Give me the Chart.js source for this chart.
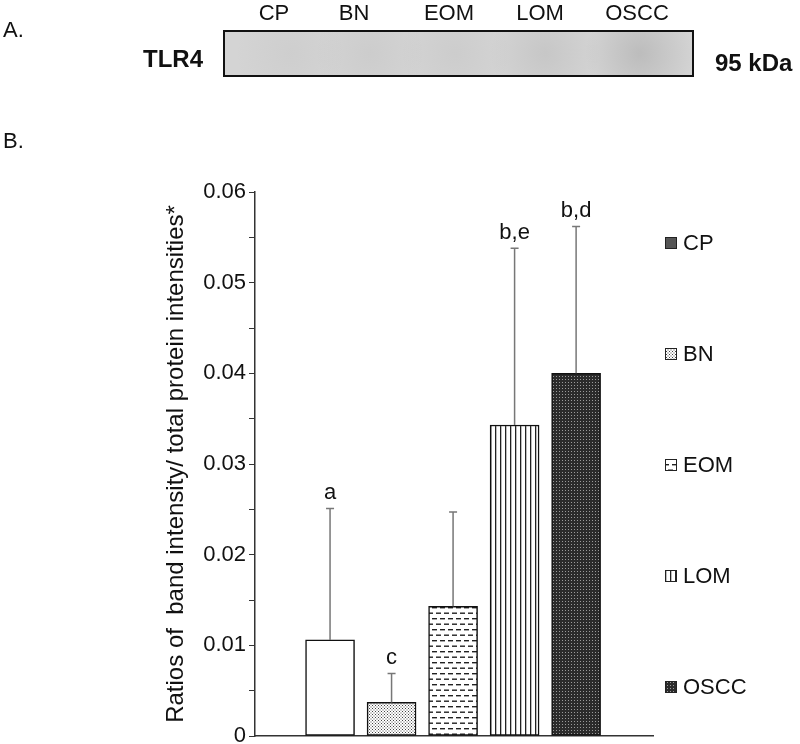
<!DOCTYPE html>
<html>
<head>
<meta charset="utf-8">
<script src="https://cdn.jsdelivr.net/npm/chart.js@4.4.1/dist/chart.umd.min.js"></script>
<style>
  body { margin: 0; background: #fff; }
  #wrap { position: relative; width: 800px; height: 744px; }
</style>
</head>
<body>
<div id="wrap"><canvas id="myChart" width="800" height="744"></canvas></div>
<script>
// data
const groups = ['CP', 'BN', 'EOM', 'LOM', 'OSCC'];
const means = [0.0106, 0.0037, 0.0143, 0.0343, 0.0400];
const sds = [0.0145, 0.0032, 0.0104, 0.0195, 0.0162];
const sigLetters = ['a', 'c', '', 'b,e', 'b,d'];
const yMax = 0.06;
const yStep = 0.005;

const FONT = '"Liberation Sans", Arial, sans-serif';

function makePattern(w, h, draw) {
  const c = document.createElement('canvas');
  c.width = w; c.height = h;
  const g = c.getContext('2d');
  draw(g);
  return c.getContext('2d').createPattern(c, 'repeat');
}

const fills = [
  '#ffffff',
  makePattern(3, 3, g => {
    g.fillStyle = '#fff'; g.fillRect(0, 0, 3, 3);
    g.fillStyle = '#444'; g.fillRect(0, 0, 1, 1); g.fillRect(1.5, 1.5, 1, 1);
  }),
  makePattern(8, 11, g => {
    g.fillStyle = '#fff'; g.fillRect(0, 0, 8, 11);
    g.fillStyle = '#222';
    g.fillRect(0, 2, 5, 1.4);
    g.fillRect(4, 7.5, 5, 1.4);
    g.fillRect(0, 7.5, 1, 1.4);
  }),
  makePattern(5, 4, g => {
    g.fillStyle = '#fff'; g.fillRect(0, 0, 5, 4);
    g.fillStyle = '#222'; g.fillRect(0, 0, 1.3, 4);
  }),
  makePattern(3, 3, g => {
    g.fillStyle = '#2b2b2b'; g.fillRect(0, 0, 3, 3);
    g.fillStyle = '#9a9a9a'; g.fillRect(1, 1, 1, 1);
  })
];
const legendFills = ['#555555', fills[1], fills[2], fills[3], fills[4]];

// panel A: blot strip and labels
const blotPanel = {
  id: 'blotPanel',
  beforeDraw(chart) {
    const ctx = chart.ctx;
    ctx.save();
    ctx.fillStyle = '#111';
    ctx.textBaseline = 'alphabetic';
    ctx.font = '22px ' + FONT;
    ctx.textAlign = 'left';
    ctx.fillText('A.', 3, 37);
    ctx.fillText('B.', 3, 148);

    ctx.textAlign = 'center';
    const laneX = [274, 354, 449, 540, 637];
    groups.forEach((g, i) => ctx.fillText(g, laneX[i], 20));

    // strip
    const bx = 224, by = 31, bw = 469, bh = 45;
    ctx.fillStyle = '#d4d4d4';
    ctx.fillRect(bx, by, bw, bh);
    const spots = [[290, 0.04], [370, 0.05], [455, 0.05], [545, 0.09], [640, 0.16]];
    spots.forEach(([sx, a]) => {
      const rg = ctx.createRadialGradient(sx, by + bh / 2, 2, sx, by + bh / 2, 55);
      rg.addColorStop(0, 'rgba(70,70,70,' + a + ')');
      rg.addColorStop(1, 'rgba(70,70,70,0)');
      ctx.fillStyle = rg;
      ctx.fillRect(bx, by, bw, bh);
    });
    ctx.strokeStyle = '#111';
    ctx.lineWidth = 2;
    ctx.strokeRect(bx, by, bw, bh);

    ctx.fillStyle = '#111';
    ctx.font = 'bold 24px ' + FONT;
    ctx.textAlign = 'left';
    ctx.fillText('TLR4', 143, 67);
    ctx.fillText('95 kDa', 715, 71);
    ctx.restore();
  }
};

// one-sided error bars and letters
const errorBars = {
  id: 'errorBars',
  afterDatasetsDraw(chart) {
    const ctx = chart.ctx;
    const y = chart.scales.y;
    const meta = chart.getDatasetMeta(0);
    ctx.save();
    meta.data.forEach((bar, i) => {
      const top = y.getPixelForValue(means[i] + sds[i]);
      ctx.strokeStyle = '#777';
      ctx.lineWidth = 1.5;
      ctx.beginPath();
      ctx.moveTo(bar.x, bar.y);
      ctx.lineTo(bar.x, top);
      ctx.moveTo(bar.x - 4, top);
      ctx.lineTo(bar.x + 4, top);
      ctx.stroke();
      if (sigLetters[i]) {
        ctx.fillStyle = '#111';
        ctx.font = '22px ' + FONT;
        ctx.textAlign = 'center';
        ctx.textBaseline = 'alphabetic';
        ctx.fillText(sigLetters[i], bar.x, top - 9);
      }
    });
    ctx.restore();
  }
};

// legend spread down the right side
const sideLegend = {
  id: 'sideLegend',
  afterDraw(chart) {
    const ctx = chart.ctx;
    const a = chart.chartArea;
    ctx.save();
    groups.forEach((g, i) => {
      const ly = a.top + 51 + i * 111;
      const lx = a.right + 12;
      ctx.fillStyle = legendFills[i];
      ctx.fillRect(lx, ly - 6, 12, 12);
      ctx.strokeStyle = '#222';
      ctx.lineWidth = 1;
      ctx.strokeRect(lx + 0.5, ly - 5.5, 11, 11);
      ctx.fillStyle = '#111';
      ctx.font = '22px ' + FONT;
      ctx.textAlign = 'left';
      ctx.textBaseline = 'middle';
      ctx.fillText(g, lx + 18, ly + 1);
    });
    ctx.restore();
  }
};

new Chart(document.getElementById('myChart'), {
  type: 'bar',
  data: {
    datasets: [{
      data: groups.map((g, i) => ({ x: i + 1, y: means[i] })),
      backgroundColor: fills,
      borderColor: '#111',
      borderWidth: 1.5,
      borderSkipped: false,
      barThickness: 49
    }]
  },
  options: {
    responsive: false,
    animation: false,
    layout: { padding: { left: 160, right: 147, top: 192, bottom: 8 } },
    plugins: { legend: { display: false }, tooltip: { enabled: false } },
    scales: {
      x: {
        type: 'linear',
        offset: false,
        min: -0.22,
        max: 6.25,
        ticks: { display: false },
        grid: { display: false },
        border: { display: true, color: '#333', width: 1.5 },
        afterFit: s => { s.height = 0; s.paddingLeft = 0; s.paddingRight = 0; }
      },
      y: {
        min: 0,
        max: yMax,
        ticks: {
          stepSize: yStep,
          color: '#111',
          padding: 3,
          font: { family: FONT, size: 22 },
          callback: v => {
            const k = Math.round(v * 1000);
            if (k % 10 !== 0) return '';
            return k === 0 ? '0' : (k / 1000).toFixed(2);
          }
        },
        grid: { drawOnChartArea: false, drawTicks: true, tickLength: 6, color: '#333' },
        border: { display: true, color: '#333', width: 1.5 },
        title: {
          display: true,
          text: 'Ratios of  band intensity/ total protein intensities*',
          color: '#111',
          font: { family: FONT, size: 24 },
          padding: { top: 2, bottom: 2 }
        },
        afterFit: s => { s.width = 95; s.paddingTop = 0; s.paddingBottom = 0; }
      }
    }
  },
  plugins: [blotPanel, errorBars, sideLegend]
});
</script>
</body>
</html>
